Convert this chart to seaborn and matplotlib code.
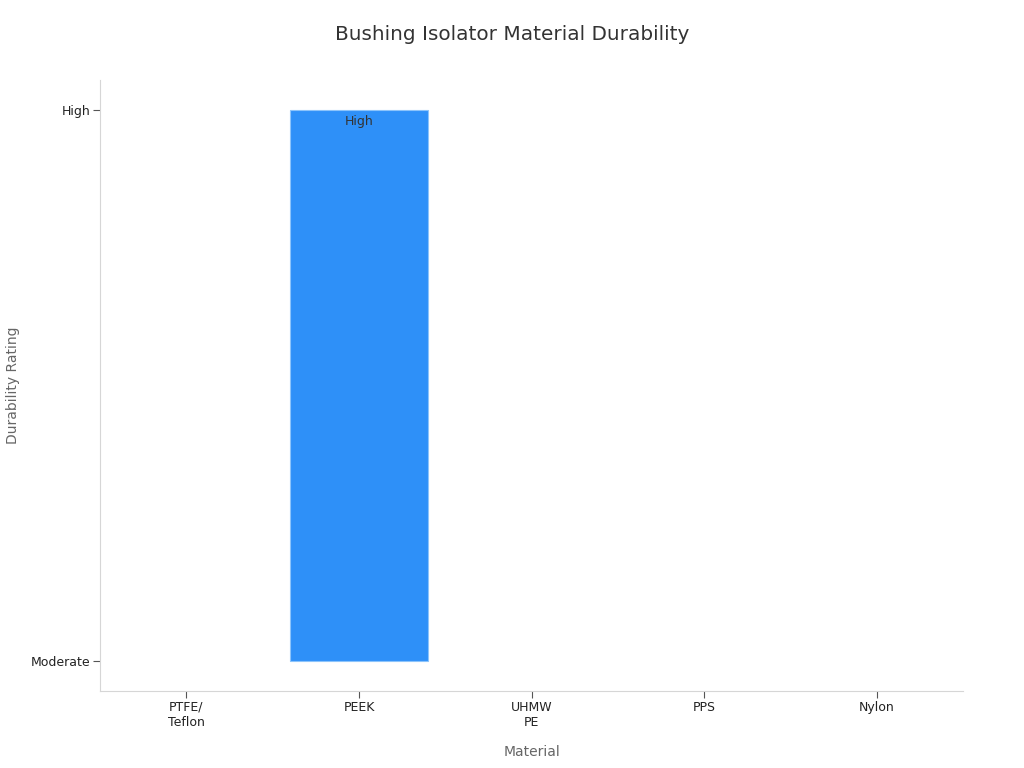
import matplotlib
matplotlib.use('Agg')
import matplotlib.pyplot as plt
import seaborn as sns
import pandas as pd

# Chart data
materials = ['PTFE/\nTeflon', 'PEEK', 'UHMW\nPE', 'PPS', 'Nylon']
ratings = ['Moderate', 'High', 'Moderate', 'Moderate', 'Moderate']
levels = ['Moderate', 'High']

df = pd.DataFrame({'Material': materials, 'Rating': ratings})
df['Score'] = df['Rating'].map({lv: i for i, lv in enumerate(levels)})

sns.set_style('white')
plt.rcParams['font.family'] = ['DejaVu Sans']

fig = plt.figure(figsize=(10.24, 7.68), dpi=100)
ax = fig.add_axes([0.0977, 0.1003, 0.8428, 0.7956])

sns.barplot(data=df, x='Material', y='Score', color='#2E90F8', saturation=1,
            edgecolor='#8cc4fb', linewidth=0.8, width=0.8, ax=ax)

# label only the bars that rise above the baseline, hide edges of empty ones
for patch, rating, score in zip(ax.patches, df['Rating'], df['Score']):
    if score > 0:
        ax.text(patch.get_x() + patch.get_width() / 2, patch.get_height() - 0.009,
                rating, ha='center', va='top', fontsize=9, color='#333333')
    else:
        patch.set_linewidth(0)

ax.set_ylim(-0.0545, 1.0545)
ax.set_xlim(-0.5, 4.5)
ax.set_yticks(range(len(levels)))
ax.set_yticklabels(levels)

sns.despine(ax=ax)
for side in ['left', 'bottom']:
    ax.spines[side].set_color('#d6d6d6')
    ax.spines[side].set_linewidth(0.8)
ax.tick_params(axis='both', which='both', length=5, width=0.8, color='#555555',
               labelsize=9, labelcolor='#222222', left=True, bottom=True, pad=2)

ax.set_xlabel('Material', fontsize=10, color='#666666', labelpad=12)
ax.set_ylabel('Durability Rating', fontsize=10, color='#666666')
ax.yaxis.set_label_coords(-0.093, 0.5)
fig.suptitle('Bushing Isolator Material Durability', fontsize=14.4, color='#333333', y=0.967)

fig.savefig('out.png', dpi=100)
